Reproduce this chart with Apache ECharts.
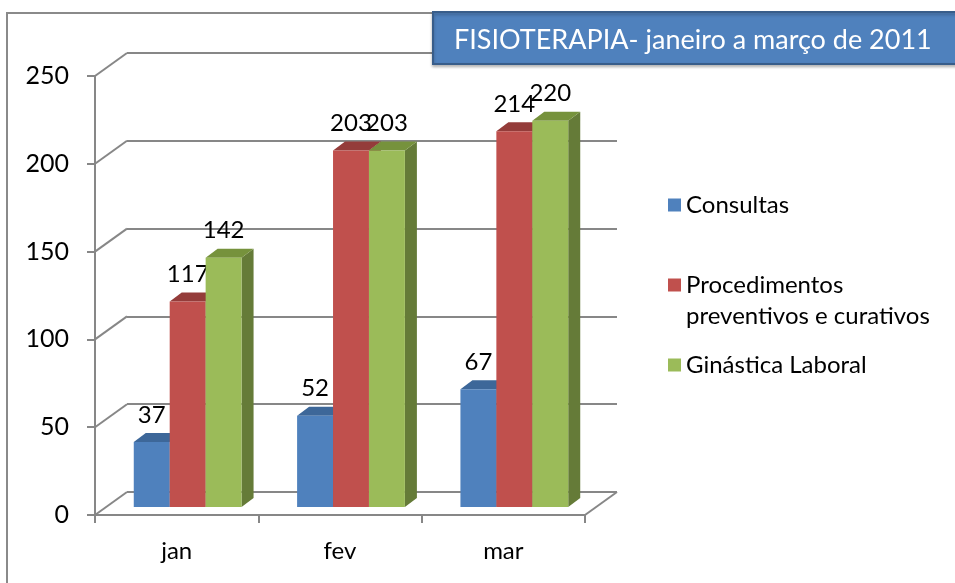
<!DOCTYPE html>
<html>
<head>
<meta charset="utf-8">
<script src="https://cdn.jsdelivr.net/npm/echarts@6/dist/echarts.min.js"></script>
<style>
  html, body { margin: 0; padding: 0; background: #fff; }
  #main { width: 955px; height: 583px; }
</style>
</head>
<body>
<div id="main"></div>
<script>
// dados
const months = ['jan', 'fev', 'mar'];
const seriesNames = ['Consultas', 'Procedimentos preventivos e curativos', 'Ginástica Laboral'];
const consultas = [37, 52, 67];
const procedimentos = [117, 203, 214];
const ginastica = [142, 203, 220];
const yTicks = [0, 50, 100, 150, 200, 250];

// cores (frente, topo, lado)
const colors = [
    ['#4f81bd', '#3d6799', '#34577f'],
    ['#c0504d', '#943c3a', '#7d3230'],
    ['#9bbb59', '#76923c', '#657b38']
];

// layout: plano da frente, profundidade da caixa e das barras
const front = { left: 95, top: 76, width: 490, height: 439 };
const boxDepth = [32, -23];
const barShift = [11, -8];
const barDepth = [12, -9];
const gridColor = '#878787';
const font = 'Lato';

const chart = echarts.init(document.getElementById('main'));

// diagonais da parede lateral + canto do chão
function renderFrame(params, api) {
    const cs = params.coordSys;
    const v = api.value(0);
    const y = api.coord([0, v])[1];
    const children = [{
        type: 'line',
        shape: { x1: cs.x, y1: y, x2: cs.x + boxDepth[0], y2: y + boxDepth[1] },
        style: { stroke: gridColor, lineWidth: 2 }
    }];
    if (v === 0) {
        const xr = cs.x + cs.width;
        children.push({
            type: 'line',
            shape: { x1: xr, y1: y, x2: xr + boxDepth[0], y2: y + boxDepth[1] },
            style: { stroke: gridColor, lineWidth: 2 }
        });
    }
    return { type: 'group', children };
}

// barra 3D
function makeBarRenderer(k) {
    return function (params, api) {
        const idx = api.value(0);
        const val = api.value(1);
        const band = api.size([1, 0])[0];
        const barW = band * 0.66 / 3;
        const base = api.coord([idx, 0]);
        const top = api.coord([idx, val]);
        const x0 = base[0] - 1.5 * barW + k * barW;
        const y0 = base[1];
        const y1 = top[1];
        const [dx, dy] = barDepth;
        const c = colors[k];
        return {
            type: 'group',
            children: [
                {
                    type: 'polygon',
                    shape: { points: [[x0 + barW, y1], [x0 + barW + dx, y1 + dy], [x0 + barW + dx, y0 + dy], [x0 + barW, y0]] },
                    style: { fill: c[2] }
                },
                {
                    type: 'polygon',
                    shape: { points: [[x0, y1], [x0 + dx, y1 + dy], [x0 + barW + dx, y1 + dy], [x0 + barW, y1]] },
                    style: { fill: c[1] }
                },
                {
                    type: 'rect',
                    shape: { x: x0, y: y1, width: barW, height: y0 - y1 },
                    style: { fill: c[0] }
                },
                {
                    type: 'text',
                    x: x0 + barW / 2,
                    y: y1 - 27,
                    style: {
                        text: String(val),
                        fill: '#000',
                        font: '24px ' + font,
                        align: 'center',
                        verticalAlign: 'middle'
                    }
                }
            ]
        };
    };
}

const values = [consultas, procedimentos, ginastica];

const barSeries = values.map((arr, k) => ({
    name: seriesNames[k],
    type: 'custom',
    xAxisIndex: 2,
    yAxisIndex: 2,
    itemStyle: { color: colors[k][0] },
    renderItem: makeBarRenderer(k),
    data: arr.map((v, i) => [i, v]),
    z: 3
}));

const option = {
    backgroundColor: '#fff',
    animation: false,
    graphic: [{
        type: 'rect',
        shape: { x: 7, y: 13, width: 1200, height: 1200 },
        style: { fill: 'none', stroke: '#8a8a8a', lineWidth: 2 },
        z: 0
    }],
    title: {
        text: 'FISIOTERAPIA- janeiro a março de 2011',
        left: 433,
        top: 12,
        backgroundColor: '#4f81bd',
        borderColor: '#385d8a',
        borderWidth: 2,
        padding: [12, 80, 8, 21],
        shadowColor: 'rgba(0,0,0,0.25)',
        shadowBlur: 3,
        shadowOffsetY: 2,
        textStyle: { color: '#fff', fontSize: 27, fontWeight: 'normal', fontFamily: font, lineHeight: 32 }
    },
    legend: {
        orient: 'vertical',
        left: 663,
        top: 184.5,
        itemWidth: 13,
        itemHeight: 13,
        itemGap: 18,
        icon: 'rect',
        data: seriesNames,
        formatter: name => name === seriesNames[1] ? ' \nProcedimentos\npreventivos e curativos' : name,
        textStyle: { color: '#000', fontSize: 24, fontFamily: font, lineHeight: 31 }
    },
    grid: [
        { left: front.left, top: front.top, width: front.width, height: front.height },
        { left: front.left + boxDepth[0], top: front.top + boxDepth[1], width: front.width, height: front.height },
        { left: front.left + barShift[0], top: front.top + barShift[1], width: front.width, height: front.height }
    ],
    xAxis: [
        {
            type: 'category',
            gridIndex: 0,
            data: months,
            axisLine: { lineStyle: { color: gridColor, width: 2 } },
            axisTick: { show: true, length: 8, lineStyle: { color: gridColor, width: 2 } },
            axisLabel: { color: '#000', fontSize: 24, fontFamily: font, margin: 24 }
        },
        { type: 'category', gridIndex: 1, data: months, show: false },
        { type: 'category', gridIndex: 2, data: months, show: false }
    ],
    yAxis: [
        {
            type: 'value',
            gridIndex: 0,
            min: 0,
            max: 250,
            interval: 50,
            axisLine: { show: true, lineStyle: { color: gridColor, width: 2 } },
            axisTick: { show: true, length: 8, lineStyle: { color: gridColor, width: 2 } },
            splitLine: { show: false },
            axisLabel: { color: '#000', fontSize: 25, fontFamily: font, margin: 26 }
        },
        {
            type: 'value',
            gridIndex: 1,
            min: 0,
            max: 250,
            interval: 50,
            axisLine: { show: false },
            axisTick: { show: false },
            axisLabel: { show: false },
            splitLine: { show: true, lineStyle: { color: gridColor, width: 2 } }
        },
        { type: 'value', gridIndex: 2, min: 0, max: 250, show: false, splitLine: { show: false } }
    ],
    series: [
        {
            type: 'custom',
            xAxisIndex: 0,
            yAxisIndex: 0,
            renderItem: renderFrame,
            data: yTicks.map(v => [v]),
            encode: { y: 0 },
            silent: true,
            z: 1
        },
        ...barSeries
    ]
};

chart.setOption(option);
</script>
</body>
</html>
